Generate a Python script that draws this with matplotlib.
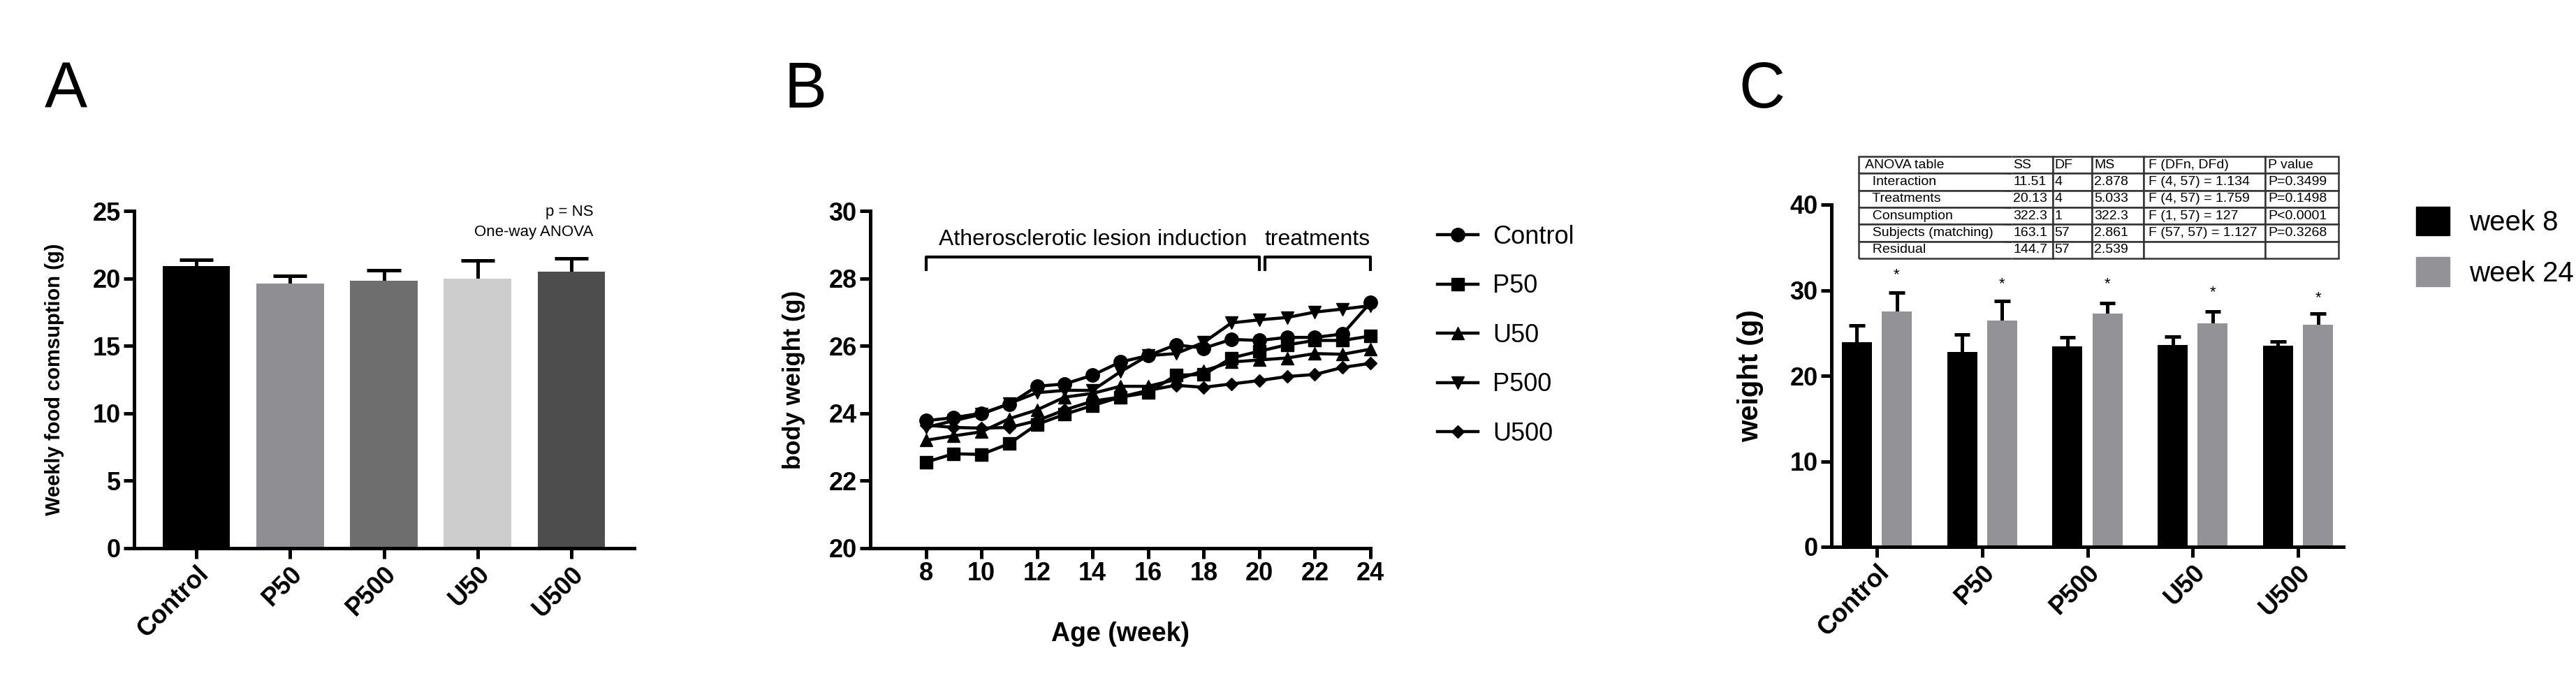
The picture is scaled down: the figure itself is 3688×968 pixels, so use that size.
import numpy as np
import matplotlib
matplotlib.use("Agg")
import matplotlib.pyplot as plt
from matplotlib.patches import Patch

plt.rcParams['font.family'] = ['Liberation Sans', 'DejaVu Sans']
plt.rcParams['font.weight'] = 'bold'
plt.rcParams['axes.labelweight'] = 'bold'

# ---------------- data ----------------
groups = ["Control", "P50", "P500", "U50", "U500"]
food_mean = [20.9, 19.6, 19.8, 20.0, 20.5]
food_sem = [0.5, 0.6, 0.8, 1.3, 1.0]
food_colors = ["#000000", "#8f8e93", "#6e6e6e", "#cdcdcd", "#4d4d4d"]

weeks = list(range(8, 25))
bw_control = [23.78, 23.87, 24.00, 24.27, 24.80, 24.87, 25.13, 25.52, 25.71, 26.03, 25.93, 26.19, 26.16, 26.25, 26.25, 26.35, 27.28]
bw_p50 = [22.55, 22.80, 22.78, 23.10, 23.67, 23.97, 24.23, 24.48, 24.61, 25.13, 25.15, 25.64, 25.84, 26.03, 26.16, 26.16, 26.29]
bw_u50 = [23.20, 23.33, 23.45, 23.84, 24.10, 24.48, 24.59, 24.80, 24.80, 25.00, 25.26, 25.52, 25.58, 25.64, 25.77, 25.75, 25.90]
bw_p500 = [23.58, 23.78, 23.97, 24.29, 24.61, 24.68, 24.68, 25.23, 25.71, 25.77, 26.10, 26.68, 26.77, 26.84, 27.00, 27.09, 27.19]
bw_u500 = [23.65, 23.58, 23.56, 23.58, 23.78, 24.10, 24.36, 24.48, 24.68, 24.83, 24.77, 24.87, 24.97, 25.09, 25.15, 25.36, 25.48]
bw_series = [("Control", bw_control, "o", 14),
             ("P50", bw_p50, "s", 13),
             ("U50", bw_u50, "^", 13),
             ("P500", bw_p500, "v", 13),
             ("U500", bw_u500, "D", 9)]
phases = [("Atherosclerotic lesion induction", 8, 20), ("treatments", 20.2, 24)]

w8_mean = [23.9, 22.8, 23.4, 23.6, 23.5]
w8_sem = [2.0, 2.0, 1.1, 1.0, 0.5]
w24_mean = [27.5, 26.45, 27.3, 26.15, 25.95]
w24_sem = [2.2, 2.25, 1.2, 1.35, 1.35]
star_y = [31.8, 30.7, 30.7, 29.7, 29.1]

anova_cols = ["ANOVA table", "SS", "DF", "MS", "F (DFn, DFd)", "P value"]
anova_rows = ["Interaction", "Treatments", "Consumption", "Subjects (matching)", "Residual"]
anova_ss = ["11.51", "20.13", "322.3", "163.1", "144.7"]
anova_df = ["4", "4", "1", "57", "57"]
anova_ms = ["2.878", "5.033", "322.3", "2.861", "2.539"]
anova_f = ["F (4, 57) = 1.134", "F (4, 57) = 1.759", "F (1, 57) = 127", "F (57, 57) = 1.127", ""]
anova_p = ["P=0.3499", "P=0.1498", "P<0.0001", "P=0.3268", ""]

# ---------------- figure ----------------
W, H = 3688, 968
fig = plt.figure(figsize=(W / 100, H / 100), dpi=100)

def px_axes(l, r, t, b):
    return fig.add_axes([l / W, 1 - b / H, (r - l) / W, (b - t) / H])

LW = 3.6

def style(ax, tick_size=26):
    for s in ("top", "right"):
        ax.spines[s].set_visible(False)
    for s in ("left", "bottom"):
        ax.spines[s].set_linewidth(LW)
    ax.tick_params(direction="out", length=11, width=LW, labelsize=tick_size, pad=3)
    for lbl in ax.get_xticklabels() + ax.get_yticklabels():
        lbl.set_fontweight("bold")

def up_err(ax, x, mean, err, cap, lw=LW):
    x = np.asarray(x, float)
    top = np.asarray(mean) + np.asarray(err)
    ax.vlines(x, np.asarray(mean) - 0.3, top, color="black", lw=lw, zorder=1)
    ax.hlines(top, x - cap, x + cap, color="black", lw=lw, zorder=1)

# ---------- Panel A ----------
axA = px_axes(192, 908, 302, 785)
xA = np.arange(len(groups))
axA.bar(xA, food_mean, width=0.72, color=food_colors, zorder=2)
up_err(axA, xA, food_mean, food_sem, 0.18)
axA.set_xlim(-0.663, 4.67)
axA.set_ylim(0, 25)
axA.set_yticks([0, 5, 10, 15, 20, 25])
axA.set_xticks(xA)
axA.set_xticklabels(groups, rotation=45, ha="right", rotation_mode="anchor", fontsize=27)
style(axA)
axA.set_ylabel("Weekly food comsuption (g)", fontsize=21, fontweight="bold")
axA.yaxis.set_label_coords(-0.14, 0.5)
axA.text(0.918, 0.996, "p = NS", transform=axA.transAxes, ha="right", va="center",
         fontsize=16, fontweight="normal")
axA.text(0.918, 0.936, "One-way ANOVA", transform=axA.transAxes, ha="right", va="center",
         fontsize=16, fontweight="normal")

# ---------- Panel B ----------
axB = px_axes(1246, 1962, 302, 785)
for name, vals, mk, ms in bw_series:
    axB.plot(weeks, vals, color="black", lw=3.2, marker=mk, ms=ms, label=name, clip_on=False)
axB.set_xlim(6, 24)
axB.set_ylim(20, 30)
axB.set_xticks(range(8, 25, 2))
axB.set_yticks(range(20, 31, 2))
style(axB)
axB.set_ylabel("body weight (g)", fontsize=25, fontweight="bold")
axB.yaxis.set_label_coords(-0.13, 0.5)
axB.set_xlabel("Age (week)", fontsize=27, fontweight="bold")
axB.xaxis.set_label_coords(0.5, -0.217)
for label, x0, x1 in phases:
    axB.plot([x0, x0, x1, x1], [28.26, 28.63, 28.63, 28.26], color="black", lw=3, clip_on=False)
    axB.text((x0 + x1) / 2, 28.85, label, ha="center", va="bottom", fontsize=23,
             fontweight="normal")
axB.legend(loc="upper left", bbox_to_anchor=(2058 / W, 1 - 322 / H), bbox_transform=fig.transFigure,
           frameon=False, prop={"size": 26, "weight": "normal"}, handlelength=1.6,
           labelspacing=0.98, handletextpad=0.6, borderaxespad=0, borderpad=0)

# ---------- Panel C ----------
axC = px_axes(2622, 3355, 293, 783)
xC = np.arange(len(groups))
off, bwid = 0.19, 0.285
axC.bar(xC - off, w8_mean, width=bwid, color="#000000", zorder=2, label="week 8")
axC.bar(xC + off, w24_mean, width=bwid, color="#939296", zorder=2, label="week 24")
up_err(axC, xC - off, w8_mean, w8_sem, 0.075)
up_err(axC, xC + off, w24_mean, w24_sem, 0.075)
for xi, sy in zip(xC + off, star_y):
    axC.text(xi, sy, "*", ha="center", va="center", fontsize=16, fontweight="normal")
axC.set_xlim(-0.43, 4.43)
axC.set_ylim(0, 40)
axC.set_yticks([0, 10, 20, 30, 40])
axC.set_xticks(xC)
axC.set_xticklabels(groups, rotation=45, ha="right", rotation_mode="anchor", fontsize=27)
style(axC)
axC.set_ylabel("weight (g)", fontsize=29, fontweight="bold")
axC.yaxis.set_label_coords(-0.132, 0.5)
axC.legend(handles=[Patch(color="#000000"), Patch(color="#939296")], labels=["week 8", "week 24"],
           loc="upper left", bbox_to_anchor=(3459 / W, 1 - 296 / H), bbox_transform=fig.transFigure,
           frameon=False, prop={"size": 29, "weight": "normal"}, handlelength=1.2, handleheight=1.2,
           labelspacing=0.75, handletextpad=0.7, borderaxespad=0, borderpad=0)

# ANOVA table
cell_text = [["  " + r, ss, df, ms, f, p] for r, ss, df, ms, f, p in
             zip(anova_rows, anova_ss, anova_df, anova_ms, anova_f, anova_p)]
tbl = axC.table(cellText=cell_text, colLabels=anova_cols, cellLoc="left", colLoc="left",
                colWidths=[219, 59, 56, 74, 174, 105],
                bbox=[(2661 - 2622) / 733, (783 - 370) / 490, (3348 - 2661) / 733, (370 - 224) / 490])
tbl.auto_set_font_size(False)
tbl.set_fontsize(14)
for (r, c), cell in tbl.get_celld().items():
    cell.set_linewidth(1.8)
    cell.set_edgecolor("#333333")
    cell.get_text().set_fontweight("normal")
    cell.PAD = 0.04
    if c == 0:
        cell.visible_edges = "BTL"
    elif c == 1:
        cell.visible_edges = "BTR"

# panel letters
for letter, lx in (("A", 64), ("B", 1123), ("C", 2489)):
    fig.text(lx / W, 1 - 154 / H, letter, fontsize=66, fontweight="normal", ha="left", va="baseline")

fig.savefig("out.png", dpi=100)
